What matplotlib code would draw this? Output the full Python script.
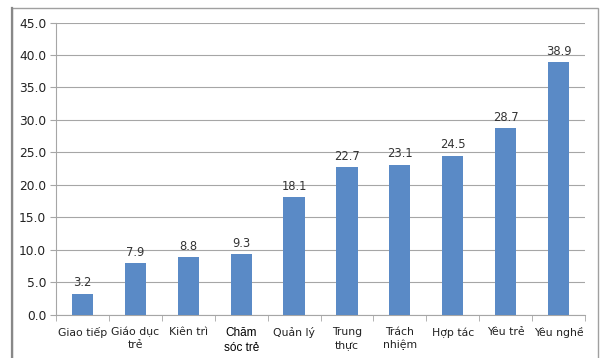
import matplotlib
matplotlib.use("Agg")
import matplotlib.pyplot as plt
from matplotlib.patches import Rectangle

categories = ["Giao tiếp", "Giáo dục\ntrẻ", "Kiên trì", "Chăm\nsóc trẻ", "Quản lý",
              "Trung\nthực", "Trách\nnhiệm", "Hợp tác", "Yêu trẻ", "Yêu nghề"]
values = [3.2, 7.9, 8.8, 9.3, 18.1, 22.7, 23.1, 24.5, 28.7, 38.9]
yticks = [0, 5, 10, 15, 20, 25, 30, 35, 40, 45]

W, H = 604, 358
fig = plt.figure(figsize=(W/100, H/100), dpi=100)
fig.patch.set_facecolor("white")

# chart border
fig.patches.append(Rectangle((12/W, -0.1), (598-12)/W, (H-8)/H + 0.1, transform=fig.transFigure,
                             fill=False, edgecolor="#a0a0a0", linewidth=1.0))
fig.lines.append(plt.Line2D([12/W, 12/W], [0, (H-8)/H], transform=fig.transFigure,
                            color="#888888", linewidth=1.6))

left, right, top, bottom = 56, 585, 22.5, 314.5
ax = fig.add_axes([left/W, 1-bottom/H, (right-left)/W, (bottom-top)/H])

x = list(range(len(categories)))
ax.bar(x, values, width=0.4, color="#5a8ac6", zorder=3)
for xi, v in zip(x, values):
    ax.text(xi, v + 0.7, f"{v:.1f}", ha="center", va="bottom", fontsize=8.3,
            color="#333333", family="DejaVu Sans", zorder=4)

ax.set_xlim(-0.5, len(categories) - 0.5)
ax.set_ylim(0, 45)
ax.set_yticks(yticks)
ax.set_yticklabels([f"{t:.1f}" for t in yticks], fontsize=8.8, color="#222222")
ax.yaxis.grid(True, color="#a6a6a6", linewidth=0.8, zorder=0)
ax.set_axisbelow(True)

ax.set_xticks(x)
ax.set_xticklabels(categories, fontsize=7.8, color="#222222", linespacing=1.35)
ax.set_xticks([i + 0.5 for i in range(-1, len(categories))], minor=True)
ax.tick_params(axis="x", which="major", length=0, pad=9)
ax.tick_params(axis="x", which="minor", length=4, color="#a6a6a6", direction="out")
ax.tick_params(axis="y", length=4, color="#a6a6a6", direction="out", pad=3)
for lab in ax.get_xticklabels():
    if lab.get_text().startswith("Chăm"):
        lab.set_family("Liberation Sans")
        lab.set_color("#000000")
        lab.set_fontsize(8.5)

for s in ["top", "right"]:
    ax.spines[s].set_visible(False)
ax.spines["left"].set_color("#a6a6a6")
ax.spines["bottom"].set_color("#a6a6a6")

fig.savefig("out.png", dpi=100)
